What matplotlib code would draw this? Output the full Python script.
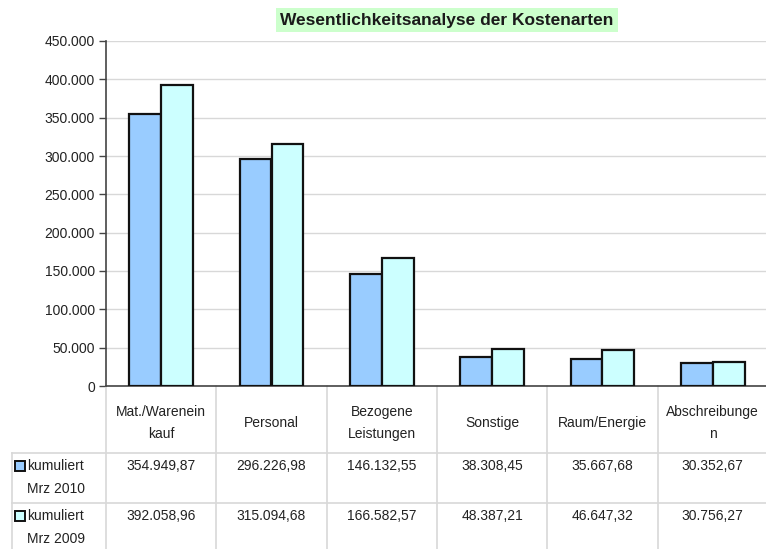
import numpy as np
import matplotlib.pyplot as plt
from matplotlib.lines import Line2D
from matplotlib.patches import Rectangle

plt.rcParams["font.family"] = ["Liberation Sans", "DejaVu Sans"]

# Daten
categories = ["Mat./Warenein\nkauf", "Personal", "Bezogene\nLeistungen",
              "Sonstige", "Raum/Energie", "Abschreibunge\nn"]
series_labels = ["kumuliert\nMrz 2010", "kumuliert\nMrz 2009"]
values_2010 = [354949.87, 296226.98, 146132.55, 38308.45, 35667.68, 30352.67]
values_2009 = [392058.96, 315094.68, 166582.57, 48387.21, 46647.32, 30756.27]
y_ticks = [0, 50000, 100000, 150000, 200000, 250000, 300000, 350000, 400000, 450000]

COLORS = ["#99ccff", "#ccffff"]
TEXT_COLOR = "#222222"
GRID_COLOR = "#d8d8d8"
FS = 10

W, H = 766, 549


def fmt_de(v, decimals=2):
    s = f"{v:,.{decimals}f}"
    return s.replace(",", "X").replace(".", ",").replace("X", ".")


fig = plt.figure(figsize=(W / 100, H / 100), dpi=100)
ax_left, ax_right = 106 / W, 768 / W
ax_bottom, ax_top = 1 - 386 / H, 1 - 41 / H
ax = fig.add_axes([ax_left, ax_bottom, ax_right - ax_left, ax_top - ax_bottom])

x = np.arange(len(categories))
bw = 0.29
for k, vals in enumerate([values_2010, values_2009]):
    ax.bar(x + (k - 0.5) * bw, vals, width=bw, color=COLORS[k],
           edgecolor="#111111", linewidth=1.6, zorder=3)

ax.set_xlim(-0.5, len(categories) - 0.5)
ax.set_ylim(0, 450000)
ax.set_yticks(y_ticks)
ax.set_yticklabels([fmt_de(t, 0) for t in y_ticks], fontsize=FS, color=TEXT_COLOR)
ax.yaxis.grid(True, color=GRID_COLOR, linewidth=1, zorder=0)
ax.set_xticks([])
for s in ["top", "right"]:
    ax.spines[s].set_visible(False)
for s in ["left", "bottom"]:
    ax.spines[s].set_color("#444444")
    ax.spines[s].set_linewidth(1.2)
ax.tick_params(axis="y", length=5, width=1, color="#444444", pad=3)

# Tabelle unter der Grafik (y in Achsenkoordinaten)
ax_h = 386 - 41
row_lines = [-(453 - 386) / ax_h, -(503 - 386) / ax_h]
bottom_y = -(H - 386) / ax_h
trans = ax.get_xaxis_transform()

for b in np.arange(-0.5, len(categories) - 0.5 + 1):
    ax.add_line(Line2D([b, b], [0, bottom_y], transform=trans, color=GRID_COLOR,
                       linewidth=1.2, clip_on=False))
label_x0 = -0.5 - (107 - 13) / 110.3
for yl in row_lines:
    ax.add_line(Line2D([label_x0, len(categories)], [yl, yl], transform=trans,
                       color=GRID_COLOR, linewidth=1.2, clip_on=False))
ax.add_line(Line2D([label_x0, label_x0], [row_lines[0], bottom_y], transform=trans,
                   color=GRID_COLOR, linewidth=1.2, clip_on=False))

for i, cat in enumerate(categories):
    ax.text(i, -(423 - 386) / ax_h, cat, transform=trans, ha="center", va="center",
            fontsize=FS, color=TEXT_COLOR, linespacing=1.8, clip_on=False)

row_text_y = [-(466 - 386) / ax_h, -(516 - 386) / ax_h]
for k, vals in enumerate([values_2010, values_2009]):
    for i, v in enumerate(vals):
        ax.text(i, row_text_y[k], fmt_de(v), transform=trans, ha="center", va="center",
                fontsize=FS, color=TEXT_COLOR, clip_on=False)
    ax.text(-0.5 - (107 - 28) / 110.3, row_text_y[k] + 7 / ax_h, series_labels[k],
            transform=trans, ha="left", va="top", fontsize=FS, color=TEXT_COLOR,
            linespacing=1.8, clip_on=False)
    sq = Rectangle((-0.5 - (107 - 16) / 110.3, row_text_y[k] - 5 / ax_h),
                   10 / 110.3, 10 / ax_h, transform=trans, facecolor=COLORS[k],
                   edgecolor="#111111", linewidth=1.4, clip_on=False)
    ax.add_patch(sq)

# Titel
fig.text(447 / W, 1 - 20 / H, "Wesentlichkeitsanalyse der Kostenarten", ha="center", va="center",
         fontsize=12.5, fontweight="bold", color="#1a1a1a",
         bbox=dict(boxstyle="square,pad=0.25", facecolor="#ccffcc", edgecolor="none"))

fig.savefig("out.png", dpi=100, facecolor="white")
